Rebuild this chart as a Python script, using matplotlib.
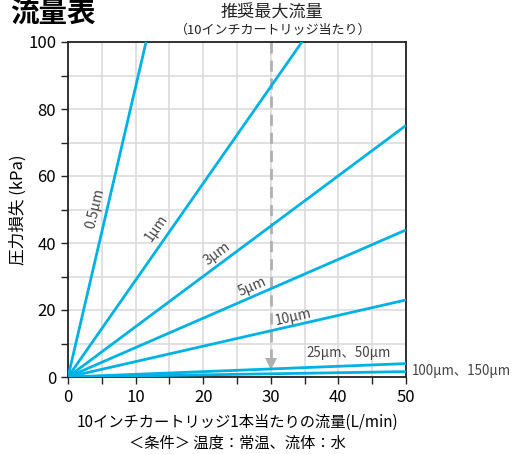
import matplotlib
matplotlib.use("Agg")
import matplotlib.pyplot as plt
import numpy as np

plt.rcParams['font.family'] = ['Noto Sans CJK JP', 'DejaVu Sans']

# data: pressure loss (kPa) at flow 0 and 50 L/min
series_labels = ["0.5µm", "1µm", "3µm", "5µm", "10µm", "25µm、50µm", "100µm、150µm"]
flow = [0, 50]
pressure_at_50 = [433, 144.5, 75.1, 43.9, 23.0, 4.0, 1.6]
label_pos = [(4.0, 50.4), (13.1, 44.4), (22.1, 36.7), (27.3, 27.0), (33.3, 17.8), (41.5, 7.1), (50.8, 1.8)]
rec_flow = 30

W, H = 514, 454
fig = plt.figure(figsize=(W/100, H/100), dpi=100)
ax = fig.add_axes([68/W, 1-377/H, (406-68)/W, (377-42)/H])

line_color = '#00b2e3'
for p in pressure_at_50:
    ax.plot(flow, [0, p], color=line_color, lw=2, solid_capstyle='butt', zorder=3)

ax.set_xlim(0, 50)
ax.set_ylim(0, 100)
ax.set_xticks(np.arange(0, 51, 10))
ax.set_xticks(np.arange(0, 51, 5), minor=True)
ax.set_yticks(np.arange(0, 101, 20))
ax.set_yticks(np.arange(0, 101, 10), minor=True)
ax.grid(which='both', color='#dcdcdc', lw=1.2, zorder=0)
ax.set_axisbelow(True)
ax.tick_params(which='both', direction='out', length=5, width=1, color='#222', labelsize=12)
ax.tick_params(which='minor', length=5)
for s in ax.spines.values():
    s.set_color('#222')
    s.set_linewidth(1.3)

# recommended max flow
ax.plot([rec_flow, rec_flow], [100, 5.5], ls=(0, (4, 2.5)), color='#b0b0b0', lw=2, zorder=2)
ax.plot(rec_flow, 3.8, marker='v', markersize=9, color='#b0b0b0', markeredgewidth=0, zorder=2, clip_on=False)

fig.canvas.draw()
def angle_for(p):
    p0 = ax.transData.transform((0, 0))
    p1 = ax.transData.transform((50, p))
    return np.degrees(np.arctan2(p1[1]-p0[1], p1[0]-p0[0]))

for i, (lab, p, (lx, ly)) in enumerate(zip(series_labels, pressure_at_50, label_pos)):
    if i < 5:
        ax.text(lx, ly, lab, rotation=angle_for(p), rotation_mode='anchor', ha='center', va='center',
                fontsize=10, color='#444', zorder=4)
    elif i == 5:
        ax.text(lx, ly, lab, ha='center', va='center', fontsize=9.6, color='#444', zorder=4)
    else:
        ax.text(lx, ly, lab, ha='left', va='center', fontsize=9.6, color='#444', clip_on=False)

ax.set_xlabel("10インチカートリッジ1本当たりの流量(L/min)\n＜条件＞ 温度：常温、流体：水", fontsize=11, labelpad=6, linespacing=1.3)
ax.set_ylabel("圧力損失 (kPa)", fontsize=12, labelpad=1)

fig.text(10/W, 1-14/H, "流量表", fontsize=20.5, fontweight='bold', ha='left', va='center')
fig.text(272/W, 1-13/H, "推奨最大流量", fontsize=12.3, ha='center', va='center', color='#222')
fig.text(273/W, 1-30/H, "（10インチカートリッジ当たり）", fontsize=9.4, ha='center', va='center', color='#222')

fig.savefig("out.png", dpi=100)
